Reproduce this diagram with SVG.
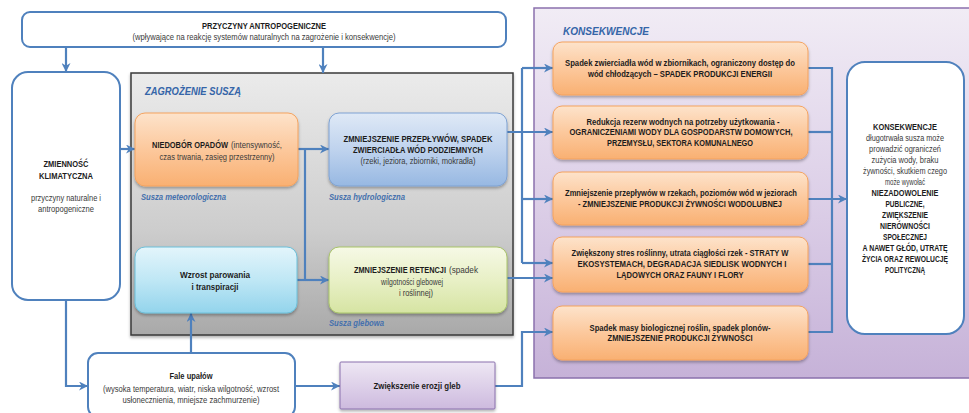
<svg xmlns="http://www.w3.org/2000/svg" width="969" height="413" viewBox="0 0 969 413">
  <defs>
    <style>
      text { font-family: "Liberation Sans", Arial, sans-serif; font-size: 8.6px; fill: #1c1c1c; text-anchor: middle; }
      .b { font-weight: bold; }
      .r { font-weight: normal; fill: #3a3a3a; }
      .s { text-anchor: start; }
      .hdr { font-size: 11px; font-weight: bold; font-style: italic; fill: #3565a8; text-anchor: start; }
      .lbl { font-weight: bold; font-style: italic; fill: #4470ad; text-anchor: start; }
      .white { fill: #ffffff; stroke: #4f81bd; stroke-width: 2; }
      .orange { fill: url(#gOrange); stroke: #f5a35f; stroke-width: 1; filter: url(#sh); }
      .blue { fill: url(#gBlue); stroke: #7ea2d3; stroke-width: 1; filter: url(#sh); }
      .cyan { fill: url(#gCyan); stroke: #6cc0da; stroke-width: 1; filter: url(#sh); }
      .green { fill: url(#gGreen); stroke: #a9c46a; stroke-width: 1; filter: url(#sh); }
      .purple { fill: url(#gPurple); stroke: #8a70ad; stroke-width: 1; filter: url(#sh); }
      .conn { fill: none; stroke: #4f81bd; stroke-width: 2.2; }
      .arr { marker-end: url(#ah); }
    </style>
    <linearGradient id="gOrange" x1="0" y1="0" x2="0" y2="1">
      <stop offset="0" stop-color="#fde3cb"/>
      <stop offset="0.5" stop-color="#fcc89c"/>
      <stop offset="1" stop-color="#f9b072"/>
    </linearGradient>
    <linearGradient id="gBlue" x1="0" y1="0" x2="0" y2="1">
      <stop offset="0" stop-color="#dfe9f6"/>
      <stop offset="0.5" stop-color="#bfd3ee"/>
      <stop offset="1" stop-color="#97b8e2"/>
    </linearGradient>
    <linearGradient id="gCyan" x1="0" y1="0" x2="0" y2="1">
      <stop offset="0" stop-color="#e3f5fb"/>
      <stop offset="0.5" stop-color="#bfe7f5"/>
      <stop offset="1" stop-color="#93d4ec"/>
    </linearGradient>
    <linearGradient id="gGreen" x1="0" y1="0" x2="0" y2="1">
      <stop offset="0" stop-color="#f6f9e6"/>
      <stop offset="0.5" stop-color="#e8f0c6"/>
      <stop offset="1" stop-color="#d6e4a3"/>
    </linearGradient>
    <linearGradient id="gPurple" x1="0" y1="0" x2="0" y2="1">
      <stop offset="0" stop-color="#eee7f4"/>
      <stop offset="1" stop-color="#cdbade"/>
    </linearGradient>
    <linearGradient id="gGrey" x1="0" y1="0" x2="0" y2="1">
      <stop offset="0" stop-color="#ebebeb"/>
      <stop offset="0.6" stop-color="#cdcdcd"/>
      <stop offset="1" stop-color="#a9a9a9"/>
    </linearGradient>
    <linearGradient id="gPanel" x1="0" y1="0" x2="0" y2="1">
      <stop offset="0" stop-color="#f1ecf5"/>
      <stop offset="0.5" stop-color="#ddd0e8"/>
      <stop offset="1" stop-color="#c6b2d8"/>
    </linearGradient>
    <filter id="sh" x="-10%" y="-10%" width="120%" height="130%">
      <feDropShadow dx="0" dy="2" stdDeviation="1.5" flood-color="#000000" flood-opacity="0.3"/>
    </filter>
    <marker id="ah" viewBox="0 0 10 10" refX="10" refY="5" markerWidth="9" markerHeight="9" markerUnits="userSpaceOnUse" orient="auto">
      <path d="M0,0 L10,5 L0,10 L3,5 z" fill="#4f81bd"/>
    </marker>
  </defs>

  <!-- background panels -->
  <g id="panel-konsekwencje">
    <rect x="534" y="8" width="440" height="370" fill="url(#gPanel)" stroke="#8a70ad" stroke-width="1.5"/>
    <text class="hdr" x="563" y="35" textLength="86" lengthAdjust="spacingAndGlyphs">KONSEKWENCJE</text>
  </g>
  <g id="panel-zagrozenie">
    <rect x="131" y="73" width="382" height="262" fill="url(#gGrey)" stroke="#3a3a3a" stroke-width="1.5" filter="url(#sh)"/>
    <text class="hdr" transform="translate(145,0) scale(0.86,1)" x="0" y="95" textLength="111.6" lengthAdjust="spacingAndGlyphs">ZAGROŻENIE SUSZĄ</text>
  </g>

  <!-- connectors -->
  <g id="connectors">
    <path class="conn arr" d="M66,47 V72"/>
    <path class="conn arr" d="M323,47 V73"/>
    <path class="conn arr" d="M120,149 H135"/>
    <path class="conn arr" d="M298,149 H329"/>
    <path class="conn" d="M305,149 V280"/>
    <path class="conn arr" d="M297,280 H329"/>
    <path class="conn arr" d="M191,353 V313"/>
    <path class="conn arr" d="M66,300 V386 H88"/>
    <path class="conn arr" d="M295,386 H340"/>
    <path class="conn arr" d="M507,132 H553"/>
    <path class="conn arr" d="M522,68 H553"/>
    <path class="conn" d="M522,68 V263"/>
    <path class="conn arr" d="M522,199 H553"/>
    <path class="conn arr" d="M522,263 H553"/>
    <path class="conn arr" d="M507,278 H553"/>
    <path class="conn arr" d="M495,386 H522 V332 H553"/>
    <path class="conn" d="M808,68 H832 V332 H808"/>
    <path class="conn" d="M808,132 H832"/>
    <path class="conn" d="M808,264 H832"/>
    <path class="conn arr" d="M808,199 H847"/>
  </g>

  <!-- causes -->
  <g id="przyczyny-antropogeniczne">
    <rect class="white" x="22" y="12" width="484" height="35" rx="8"/>
    <text class="b" transform="translate(264,0) scale(0.85,1)" x="0" y="29" textLength="145.9" lengthAdjust="spacingAndGlyphs">PRZYCZYNY ANTROPOGENICZNE</text>
    <text class="r" transform="translate(264,0) scale(0.85,1)" x="0" y="40" textLength="309.4" lengthAdjust="spacingAndGlyphs">(wpływające na reakcję systemów naturalnych na zagrożenie i konsekwencje)</text>
  </g>
  <g id="zmiennosc-klimatyczna">
    <rect class="white" x="12" y="72" width="108" height="228" rx="16"/>
    <text class="b" transform="translate(66,0) scale(0.85,1)" x="0" y="167" textLength="52.9" lengthAdjust="spacingAndGlyphs">ZMIENNOŚĆ</text>
    <text class="b" transform="translate(66,0) scale(0.85,1)" x="0" y="179" textLength="63.5" lengthAdjust="spacingAndGlyphs">KLIMATYCZNA</text>
    <text class="r" transform="translate(66,0) scale(0.85,1)" x="0" y="201" textLength="82.4" lengthAdjust="spacingAndGlyphs">przyczyny naturalne i</text>
    <text class="r" transform="translate(66,0) scale(0.85,1)" x="0" y="212" textLength="65.9" lengthAdjust="spacingAndGlyphs">antropogeniczne</text>
  </g>

  <!-- drought types -->
  <g id="niedobor-opadow">
    <rect class="orange" x="135" y="113" width="163" height="73" rx="10"/>
    <text class="b s" transform="translate(152,0) scale(0.85,1)" x="0" y="148" textLength="89.4" lengthAdjust="spacingAndGlyphs">NIEDOBÓR OPADÓW</text>
    <text class="r s" transform="translate(231,0) scale(0.85,1)" x="0" y="148" textLength="60" lengthAdjust="spacingAndGlyphs">(intensywność,</text>
    <text class="r" transform="translate(217,0) scale(0.85,1)" x="0" y="160" textLength="135.3" lengthAdjust="spacingAndGlyphs">czas trwania, zasięg przestrzenny)</text>
    <text class="lbl" transform="translate(141,0) scale(0.85,1)" x="0" y="200" textLength="100" lengthAdjust="spacingAndGlyphs">Susza meteorologiczna</text>
  </g>
  <g id="susza-hydrologiczna">
    <rect class="blue" x="329" y="113" width="178" height="73" rx="10"/>
    <text class="b" transform="translate(418,0) scale(0.85,1)" x="0" y="142" textLength="175.3" lengthAdjust="spacingAndGlyphs">ZMNIEJSZENIE PRZEPŁYWÓW, SPADEK</text>
    <text class="b" transform="translate(418,0) scale(0.85,1)" x="0" y="153" textLength="152.9" lengthAdjust="spacingAndGlyphs">ZWIERCIADŁA WÓD PODZIEMNYCH</text>
    <text class="r" transform="translate(418,0) scale(0.85,1)" x="0" y="164" textLength="135.3" lengthAdjust="spacingAndGlyphs">(rzeki, jeziora, zbiorniki, mokradła)</text>
    <text class="lbl" transform="translate(329,0) scale(0.85,1)" x="0" y="200" textLength="89.4" lengthAdjust="spacingAndGlyphs">Susza hydrologiczna</text>
  </g>
  <g id="wzrost-parowania">
    <rect class="cyan" x="135" y="247" width="162" height="66" rx="10"/>
    <text class="b" transform="translate(215,0) scale(0.85,1)" x="0" y="278" textLength="82.4" lengthAdjust="spacingAndGlyphs">Wzrost parowania</text>
    <text class="b" transform="translate(215,0) scale(0.85,1)" x="0" y="290" textLength="55.3" lengthAdjust="spacingAndGlyphs">i transpiracji</text>
  </g>
  <g id="zmniejszenie-retencji">
    <rect class="green" x="329" y="247" width="178" height="66" rx="10"/>
    <text class="b s" transform="translate(354,0) scale(0.85,1)" x="0" y="273" textLength="108.2" lengthAdjust="spacingAndGlyphs">ZMNIEJSZENIE RETENCJI</text>
    <text class="r s" transform="translate(449,0) scale(0.85,1)" x="0" y="273" textLength="34.1" lengthAdjust="spacingAndGlyphs">(spadek</text>
    <text class="r" transform="translate(412,0) scale(0.85,1)" x="0" y="285" textLength="72.9" lengthAdjust="spacingAndGlyphs">wilgotności glebowej</text>
    <text class="r" transform="translate(416,0) scale(0.85,1)" x="0" y="296" textLength="40" lengthAdjust="spacingAndGlyphs">i roślinnej)</text>
    <text class="lbl" transform="translate(329,0) scale(0.85,1)" x="0" y="326" textLength="64.7" lengthAdjust="spacingAndGlyphs">Susza glebowa</text>
  </g>

  <!-- heat waves and erosion -->
  <g id="fale-upalow">
    <rect class="white" x="88" y="353" width="207" height="64" rx="10"/>
    <text class="b" transform="translate(191,0) scale(0.85,1)" x="0" y="379" textLength="50.6" lengthAdjust="spacingAndGlyphs">Fale upałów</text>
    <text class="r" transform="translate(191,0) scale(0.85,1)" x="0" y="392" textLength="207.1" lengthAdjust="spacingAndGlyphs">(wysoka temperatura, wiatr, niska wilgotność, wzrost</text>
    <text class="r" transform="translate(191,0) scale(0.85,1)" x="0" y="403" textLength="161.2" lengthAdjust="spacingAndGlyphs">usłonecznienia, mniejsze zachmurzenie)</text>
  </g>
  <g id="erozja-gleb">
    <rect class="purple" x="340" y="362" width="155" height="47" rx="1"/>
    <text class="b" transform="translate(417,0) scale(0.85,1)" x="0" y="389" textLength="102.4" lengthAdjust="spacingAndGlyphs">Zwiększenie erozji gleb</text>
  </g>

  <!-- consequences -->
  <g id="spadek-produkcji-energii">
    <rect class="orange" x="553" y="42" width="255" height="53" rx="9"/>
    <text class="b" transform="translate(680,0) scale(0.85,1)" x="0" y="66" textLength="270.6" lengthAdjust="spacingAndGlyphs">Spadek zwierciadła wód w zbiornikach, ograniczony dostęp do</text>
    <text class="b" transform="translate(680,0) scale(0.85,1)" x="0" y="77" textLength="216.5" lengthAdjust="spacingAndGlyphs">wód chłodzących – SPADEK PRODUKCJI  ENERGII</text>
  </g>
  <g id="ograniczenia-wody">
    <rect class="orange" x="553" y="106" width="255" height="53" rx="9"/>
    <text class="b" transform="translate(683,0) scale(0.85,1)" x="0" y="125" textLength="227.1" lengthAdjust="spacingAndGlyphs">Redukcja rezerw wodnych na potrzeby użytkowania -</text>
    <text class="b" transform="translate(681,0) scale(0.85,1)" x="0" y="135" textLength="262.4" lengthAdjust="spacingAndGlyphs">OGRANICZENIAMI WODY DLA GOSPODARSTW DOMOWYCH,</text>
    <text class="b" transform="translate(680,0) scale(0.85,1)" x="0" y="146" textLength="171.8" lengthAdjust="spacingAndGlyphs">PRZEMYSŁU, SEKTORA KOMUNALNEGO</text>
  </g>
  <g id="zywnosc-wodolubna">
    <rect class="orange" x="553" y="172" width="255" height="53" rx="9"/>
    <text class="b" transform="translate(681,0) scale(0.85,1)" x="0" y="196" textLength="272.9" lengthAdjust="spacingAndGlyphs">Zmniejszenie przepływów w rzekach, poziomów wód w jeziorach</text>
    <text class="b" transform="translate(680,0) scale(0.85,1)" x="0" y="207" textLength="240" lengthAdjust="spacingAndGlyphs">- ZMNIEJSZENIE PRODUKCJI ŻYWNOŚCI WODOLUBNEJ</text>
  </g>
  <g id="straty-w-ekosystemach">
    <rect class="orange" x="553" y="237" width="255" height="55" rx="9"/>
    <text class="b" transform="translate(680,0) scale(0.85,1)" x="0" y="256" textLength="255.3" lengthAdjust="spacingAndGlyphs">Zwiększony stres roślinny, utrata ciągłości rzek - STRATY W</text>
    <text class="b" transform="translate(682,0) scale(0.85,1)" x="0" y="267" textLength="245.9" lengthAdjust="spacingAndGlyphs">EKOSYSTEMACH, DEGRADACJA SIEDLISK WODNYCH I</text>
    <text class="b" transform="translate(680,0) scale(0.85,1)" x="0" y="278" textLength="149.4" lengthAdjust="spacingAndGlyphs">LĄDOWYCH ORAZ FAUNY I FLORY</text>
  </g>
  <g id="produkcja-zywnosci">
    <rect class="orange" x="553" y="306" width="255" height="54" rx="9"/>
    <text class="b" transform="translate(680,0) scale(0.85,1)" x="0" y="331" textLength="212.9" lengthAdjust="spacingAndGlyphs">Spadek masy biologicznej roślin, spadek  plonów-</text>
    <text class="b" transform="translate(680,0) scale(0.85,1)" x="0" y="341" textLength="170.6" lengthAdjust="spacingAndGlyphs">ZMNIEJSZENIE PRODUKCJI ŻYWNOŚCI</text>
  </g>

  <!-- long-term consequences -->
  <g id="konsekwencje-dlugotrwale">
    <rect class="white" x="847" y="62" width="117" height="272" rx="18"/>
    <text class="b" transform="translate(905,0) scale(0.85,1)" x="0" y="130" textLength="75.3" lengthAdjust="spacingAndGlyphs">KONSEKWENCJE</text>
    <text class="r" transform="translate(905,0) scale(0.85,1)" x="0" y="141" textLength="91.8" lengthAdjust="spacingAndGlyphs">długotrwała susza może</text>
    <text class="r" transform="translate(905,0) scale(0.85,1)" x="0" y="152" textLength="84.7" lengthAdjust="spacingAndGlyphs">prowadzić ograniczeń</text>
    <text class="r" transform="translate(905,0) scale(0.85,1)" x="0" y="163" textLength="78.8" lengthAdjust="spacingAndGlyphs">zużycia wody, braku</text>
    <text class="r" transform="translate(905,0) scale(0.85,1)" x="0" y="174" textLength="98.8" lengthAdjust="spacingAndGlyphs">żywności, skutkiem czego</text>
    <text class="r" transform="translate(905,0) scale(0.85,1)" x="0" y="185" textLength="47.1" lengthAdjust="spacingAndGlyphs">może wywołać</text>
    <text class="b" transform="translate(905,0) scale(0.85,1)" x="0" y="196" textLength="78.8" lengthAdjust="spacingAndGlyphs">NIEZADOWOLENIE</text>
    <text class="b" transform="translate(905,0) scale(0.85,1)" x="0" y="207" textLength="45.9" lengthAdjust="spacingAndGlyphs">PUBLICZNE,</text>
    <text class="b" transform="translate(905,0) scale(0.85,1)" x="0" y="218" textLength="54.1" lengthAdjust="spacingAndGlyphs">ZWIĘKSZENIE</text>
    <text class="b" transform="translate(905,0) scale(0.85,1)" x="0" y="229" textLength="58.8" lengthAdjust="spacingAndGlyphs">NIERÓWNOŚCI</text>
    <text class="b" transform="translate(905,0) scale(0.85,1)" x="0" y="240" textLength="51.8" lengthAdjust="spacingAndGlyphs">SPOŁECZNEJ</text>
    <text class="b" transform="translate(905,0) scale(0.85,1)" x="0" y="251" textLength="100" lengthAdjust="spacingAndGlyphs">A NAWET GŁÓD, UTRATĘ</text>
    <text class="b" transform="translate(905,0) scale(0.85,1)" x="0" y="262" textLength="101.2" lengthAdjust="spacingAndGlyphs">ŻYCIA ORAZ REWOLUCJĘ</text>
    <text class="b" transform="translate(905,0) scale(0.85,1)" x="0" y="273" textLength="47.1" lengthAdjust="spacingAndGlyphs">POLITYCZNĄ</text>
  </g>
</svg>
